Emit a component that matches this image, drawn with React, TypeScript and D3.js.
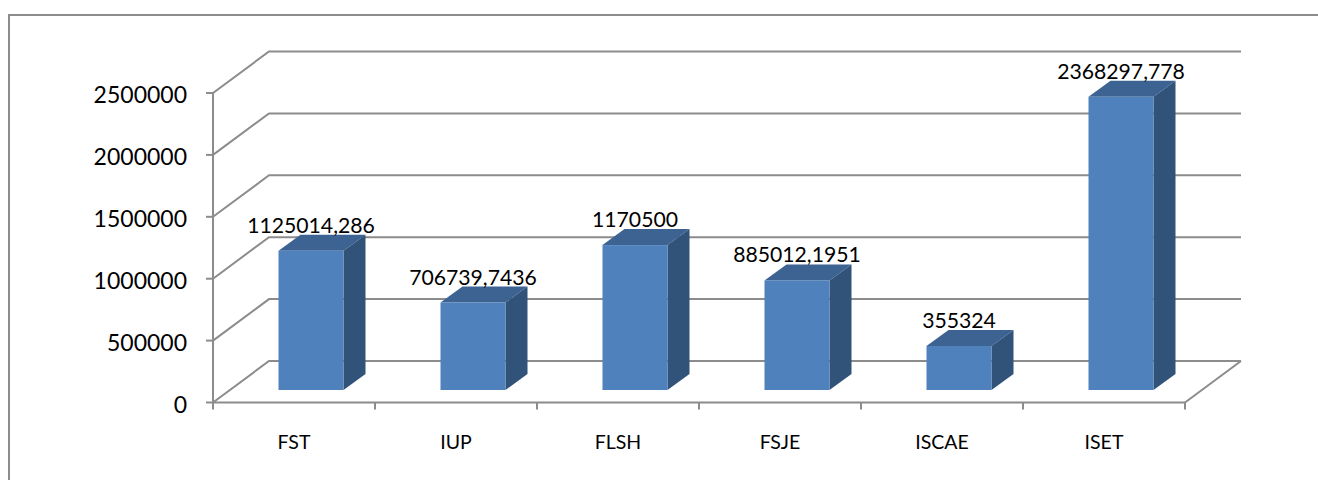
import React from 'react'
import * as d3 from 'd3'

const categories = ['FST', 'IUP', 'FLSH', 'FSJE', 'ISCAE', 'ISET']
const values = [1125014.286, 706739.7436, 1170500, 885012.1951, 355324, 2368297.778]
const valueLabels = ['1125014,286', '706739,7436', '1170500', '885012,1951', '355324', '2368297,778']
const yTicks = [0, 500000, 1000000, 1500000, 2000000, 2500000]

const width = 1318
const height = 480
const gridColor = '#8c8c8c'
const font = 'Lato, Carlito, sans-serif'

// oblique offset of the back wall and of the bars
const wallDx = 56
const wallDy = 41.5
const barDx = 22
const barDy = 16
const barFloorDx = 17
const barFloorDy = 12.5
const barWidth = 65

const x = d3.scaleBand().domain(categories).range([213, 1185])
const y = d3.scaleLinear().domain([0, 2500000]).range([402.5, 93])

const line = d3.line()

export default function App() {
  const [x0, x1] = x.range()
  const bars = categories.map((c, i) => {
    const left = x(c)! + (x.bandwidth() - barWidth) / 2 + barFloorDx
    const right = left + barWidth
    const bottom = y(0) - barFloorDy
    const top = y(values[i]) - barFloorDy
    return { c, i, left, right, bottom, top }
  })

  return (
    <svg
      width={width}
      height={height}
      style={{ position: 'absolute', left: 0, top: 0, display: 'block', background: '#fff' }}
    >
      {/* outer frame, cropped at the right and bottom */}
      <path d={line([[9, height], [9, 15], [width, 15]])!} fill="none" stroke={gridColor} strokeWidth={2} />

      {/* gridlines on the left wall and back wall */}
      {yTicks.map(t => (
        <path
          key={t}
          d={line([[x0, y(t)], [x0 + wallDx, y(t) - wallDy], [x1 + wallDx, y(t) - wallDy]])!}
          fill="none"
          stroke={gridColor}
          strokeWidth={2}
        />
      ))}

      {/* floor edge and axes */}
      <path d={line([[x1, y(0)], [x1 + wallDx, y(0) - wallDy]])!} fill="none" stroke={gridColor} strokeWidth={2} />
      <path d={line([[x0, y(2500000)], [x0, y(0)], [x1, y(0)]])!} fill="none" stroke={gridColor} strokeWidth={2} />
      {yTicks.map(t => (
        <path key={t} d={line([[x0 - 7, y(t)], [x0, y(t)]])!} stroke={gridColor} strokeWidth={2} />
      ))}
      {[...categories.map(c => x(c)!), x1].map(px => (
        <path key={px} d={line([[px, y(0)], [px, y(0) + 7]])!} stroke={gridColor} strokeWidth={2} />
      ))}

      {/* bars */}
      {bars.map(b => (
        <g key={b.c}>
          <path
            d={line([[b.left, b.top], [b.left + barDx, b.top - barDy], [b.right + barDx, b.top - barDy], [b.right, b.top]])!}
            fill="#3c6391"
          />
          <path
            d={line([[b.right, b.top], [b.right + barDx, b.top - barDy], [b.right + barDx, b.bottom - barDy], [b.right, b.bottom]])!}
            fill="#325379"
          />
          <rect x={b.left} y={b.top} width={barWidth} height={b.bottom - b.top} fill="#4f81bd" />
        </g>
      ))}

      {/* y tick labels */}
      {yTicks.map(t => (
        <text key={t} x={187} y={y(t) + 10} textAnchor="end" fontFamily={font} fontSize={23} fill="#000">
          {t}
        </text>
      ))}

      {/* category labels */}
      {categories.map(c => (
        <text
          key={c}
          x={x(c)! + x.bandwidth() / 2}
          y={449}
          textAnchor="middle"
          fontFamily={font}
          fontSize={19.5}
          fill="#000"
        >
          {c}
        </text>
      ))}

      {/* value labels */}
      {bars.map(b => (
        <text
          key={b.c}
          x={(b.left + b.right) / 2}
          y={b.top - 18}
          textAnchor="middle"
          fontFamily={font}
          fontSize={21.2}
          fill="#000"
        >
          {valueLabels[b.i]}
        </text>
      ))}
    </svg>
  )
}
